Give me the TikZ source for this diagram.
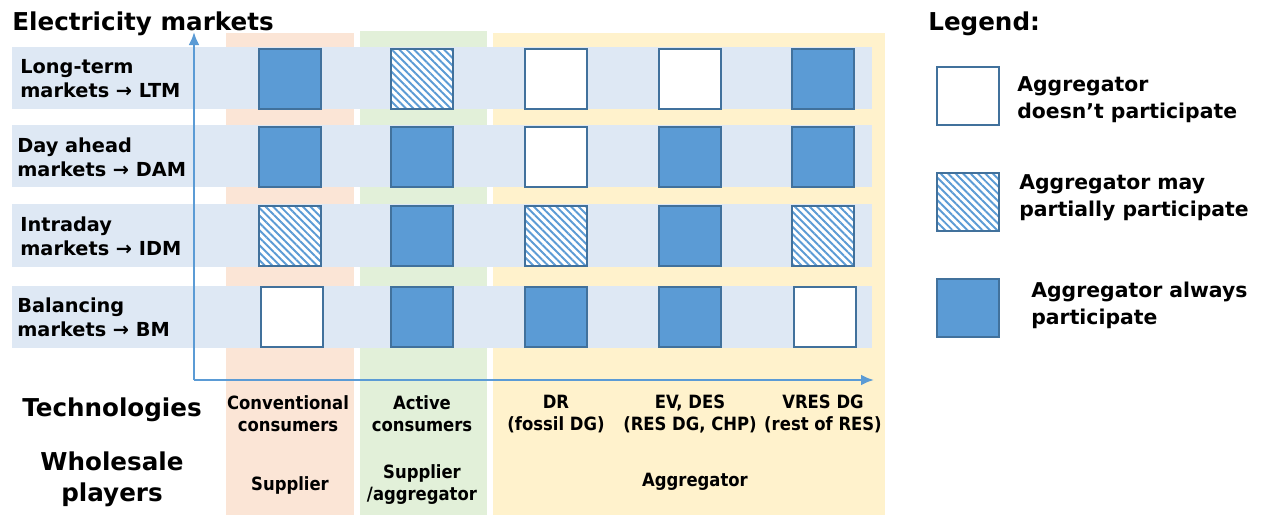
\documentclass[tikz,border=0pt]{standalone}
\usepackage{fontspec}
\setmainfont{DejaVu Sans}
\newfontfamily\condfont{DejaVu Sans Condensed}
\usetikzlibrary{arrows.meta,patterns.meta}
\definecolor{rowband}{HTML}{DEE8F4}
\definecolor{supplierbg}{HTML}{FBE5D6}
\definecolor{activebg}{HTML}{E2F0D9}
\definecolor{aggbg}{HTML}{FFF2CC}
\definecolor{cellfill}{HTML}{5B9BD5}
\definecolor{celledge}{HTML}{41719C}
\tikzset{%
    >={Latex[length=2.6mm,width=2.2mm]},
    cell/.style={draw=celledge, line width=1pt, minimum width=1.24cm, minimum height=1.2cm, inner sep=0pt},
    full/.style={cell, fill=cellfill},
    none/.style={cell, fill=white},
    part/.style={cell, preaction={fill=white},
        pattern={Lines[angle=-45,distance=3pt,line width=1.1pt]}, pattern color=cellfill},
    axisline/.style={draw=cellfill, line width=1.4pt, ->},
    rowlabel/.style={anchor=west, align=left, font=\bfseries\fontsize{11}{13.6}\selectfont, inner sep=0pt},
    techlabel/.style={align=center, font=\condfont\bfseries\fontsize{10.4}{12.5}\selectfont, inner sep=0pt},
    title/.style={font=\bfseries\fontsize{14}{17}\selectfont, inner sep=0pt},
    legendtext/.style={anchor=west, align=left, font=\bfseries\fontsize{11.6}{15.3}\selectfont, inner sep=0pt}
}

\begin{document}
\begin{tikzpicture}[x=0.02cm, y=-0.02cm]
      \useasboundingbox (0,0) rectangle (1262,515);

      % column backgrounds
      \fill[supplierbg] (226,33) rectangle (354,515);
      \fill[activebg] (360,31) rectangle (487,515);
      \fill[aggbg] (493,33) rectangle (885,515);

      % market rows
      \fill[rowband] (12,47) rectangle (872,109);
      \fill[rowband] (12,125) rectangle (872,187);
      \fill[rowband] (12,204) rectangle (872,267);
      \fill[rowband] (12,286) rectangle (872,348);

      \node[title, anchor=base west] (markets) at (12,30) {Electricity markets};
      \node[title, anchor=base west] (legend) at (928,30) {Legend:};

      \node[rowlabel] (ltm) at (20,79) {Long-term\\markets → LTM};
      \node[rowlabel] (dam) at (17,157) {Day ahead\\markets → DAM};
      \node[rowlabel] (idm) at (20,236) {Intraday\\markets → IDM};
      \node[rowlabel] (bm) at (17,317) {Balancing\\markets → BM};

      % axes
      \coordinate (origin) at (194,380);
      \coordinate (ytop) at (194,32);
      \coordinate (xend) at (874,380);
      \draw[axisline] (origin) -- (ytop);
      \draw[axisline] (origin) -- (xend);

      % LTM
      \node[full] (ltm-conv) at (290,79) {};
      \node[part] (ltm-act) at (422,79) {};
      \node[none] (ltm-dr) at (556,79) {};
      \node[none] (ltm-ev) at (690,79) {};
      \node[full] (ltm-vres) at (823,79) {};

      % DAM
      \node[full] (dam-conv) at (290,157) {};
      \node[full] (dam-act) at (422,157) {};
      \node[none] (dam-dr) at (556,157) {};
      \node[full] (dam-ev) at (690,157) {};
      \node[full] (dam-vres) at (823,157) {};

      % IDM
      \node[part] (idm-conv) at (290,236) {};
      \node[full] (idm-act) at (422,236) {};
      \node[part] (idm-dr) at (556,236) {};
      \node[full] (idm-ev) at (690,236) {};
      \node[part] (idm-vres) at (823,236) {};

      % BM
      \node[none] (bm-conv) at (292,317) {};
      \node[full] (bm-act) at (422,317) {};
      \node[full] (bm-dr) at (556,317) {};
      \node[full] (bm-ev) at (690,317) {};
      \node[none] (bm-vres) at (825,317) {};

      % technologies and players
      \node[title] (tech) at (112,410) {Technologies};
      \node[title, align=center, font=\bfseries\fontsize{14}{17.5}\selectfont] (players) at (112,479) {Wholesale\\players};

      \node[techlabel] (conv) at (288,414) {Conventional\\consumers};
      \node[techlabel] (act) at (422,414) {Active\\consumers};
      \node[techlabel] (dr) at (556,414) {DR\\(fossil DG)};
      \node[techlabel] (ev) at (690,414) {EV, DES\\(RES DG, CHP)};
      \node[techlabel] (vres) at (823,414) {VRES DG\\(rest of RES)};

      \node[techlabel] (supplier) at (290,485) {Supplier};
      \node[techlabel] (suppagg) at (422,485) {Supplier\\/aggregator};
      \node[techlabel] (aggregator) at (695,482) {Aggregator};

      % legend
      \node[none, minimum height=1.16cm] (key-none) at (968,96) {};
      \node[part, minimum height=1.16cm] (key-part) at (968,202) {};
      \node[full, minimum height=1.16cm] (key-full) at (968,308) {};
      \node[legendtext] (txt-none) at (1017,100) {Aggregator\\doesn’t participate};
      \node[legendtext] (txt-part) at (1019,198) {Aggregator may\\partially participate};
      \node[legendtext] (txt-full) at (1031,305) {Aggregator always\\participate};
    \end{tikzpicture}
\end{document}
